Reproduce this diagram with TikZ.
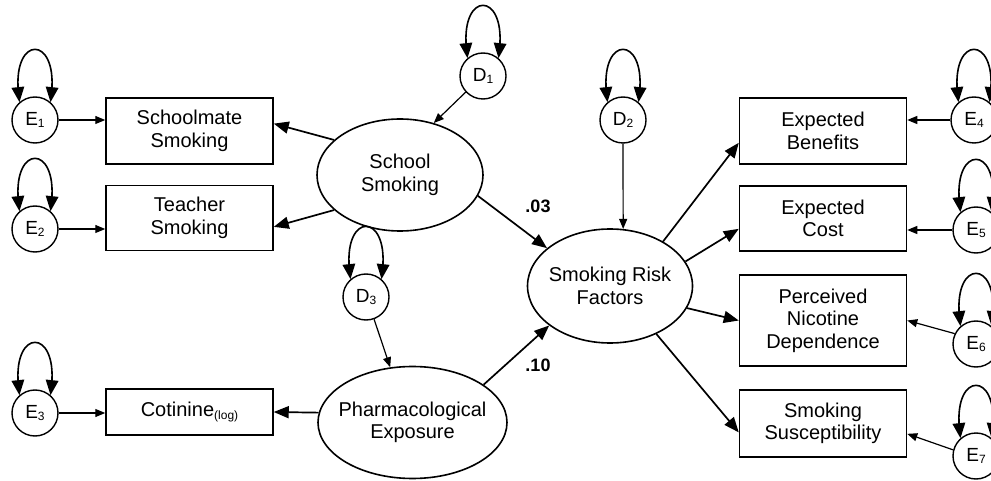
\documentclass[tikz,border=0pt]{standalone}
\usepackage{fontspec}
\setmainfont{Liberation Sans}
\usetikzlibrary{arrows.meta,shapes.geometric,calc}
\newcommand\lowsub[1]{\raisebox{-2.5pt}{\fontsize{12}{12}\selectfont #1}}
\newcommand\varloop[1]{%
  \draw[loopline] ($(#1.131)+(96:11)$) .. controls +(95:56) and +(85:56) .. ($(#1.49)+(84:11)$);
  \fill[looptip] (#1.131) -- ($(#1.131)+(96:15)+(6:6.5)$) -- ($(#1.131)+(96:15)+(186:6.5)$) -- cycle;
  \fill[looptip] (#1.49) -- ($(#1.49)+(84:15)+(174:6.5)$) -- ($(#1.49)+(84:15)+(-6:6.5)$) -- cycle;}
\begin{document}
\begin{tikzpicture}[x=1pt,y=1pt,
  box/.style={draw, line width=1.5pt, minimum width=167pt, align=center,
    font=\fontsize{20}{22.5}\selectfont, inner sep=0pt},
  lat/.style={draw, ellipse, line width=1.6pt, inner sep=0pt},
  txt/.style={align=center, font=\fontsize{20}{22.5}\selectfont, inner sep=0pt},
  errc/.style={draw, circle, line width=1.4pt, minimum size=46pt, inner sep=0pt,
    font=\fontsize{19}{19}\selectfont},
  load/.style={line width=1.7pt, arrows={-Triangle[length=15pt,width=12pt]}},
  errarr/.style={line width=1.2pt, arrows={-Triangle[length=10pt,width=8pt]}},
  loopline/.style={line width=1.6pt},
  looptip/.style={black},
  coef/.style={font=\bfseries\fontsize{18}{18}\selectfont, inner sep=0pt}
]
\useasboundingbox (0,0) rectangle (991,-481);
\clip (0,0) rectangle (991,-481);

% error / disturbance circles
\node[errc] (E1) at (35,-120) {E\lowsub{1}};
\node[errc] (E2) at (35,-229) {E\lowsub{2}};
\node[errc] (E3) at (35,-413) {E\lowsub{3}};
\node[errc] (D1) at (483,-76) {D\lowsub{1}};
\node[errc] (D2) at (623,-120) {D\lowsub{2}};
\node[errc] (D3) at (366,-297) {D\lowsub{3}};
\node[errc] (E4) at (974,-120) {E\lowsub{4}};
\node[errc] (E5) at (976,-230) {E\lowsub{5}};
\node[errc] (E6) at (976,-344) {E\lowsub{6}};
\node[errc] (E7) at (976,-456) {E\lowsub{7}};

% observed boxes
\node[box, minimum height=66pt] (schoolmate) at (189.5,-131) {Schoolmate\\Smoking};
\node[box, minimum height=65pt] (teacher) at (189.5,-218) {Teacher\\Smoking};
\node[box, minimum height=46pt] (cotinine) at (189.5,-412) {Cotinine\lowsub{(log)}};
\node[box, minimum height=66pt] (benefits) at (823,-131) {Expected\\Benefits};
\node[box, minimum height=65pt] (cost) at (823,-218.5) {Expected\\Cost};
\node[box, minimum height=91pt] (perceived) at (823,-320.5) {Perceived\\Nicotine\\Dependence};
\node[box, minimum height=67pt] (suscept) at (823,-423.5) {Smoking\\Susceptibility};

% latent ellipses
\node[lat, minimum width=166pt, minimum height=112pt] (school) at (400,-175) {};
\node[txt] (schooltxt) at (school) {School\\Smoking};
\node[lat, minimum width=189pt, minimum height=112pt] (pharm) at (412.5,-422.5) {};
\node[txt] (pharmtxt) at (pharm) {Pharmacological\\Exposure};
\node[lat, minimum width=165pt, minimum height=114pt] (risk) at (610,-286) {};
\node[txt] (risktxt) at (risk) {Smoking Risk\\Factors};

% coefficients
\node[coef] (c03) at (538,-206) {.03};
\node[coef] (c10) at (538,-365) {.10};

% structural / loading arrows
\draw[load] (school.152) -- (schoolmate.5.5);
\draw[load] (school.208) -- (teacher.-6.8);
\draw[load] (school.-15.8) -- (risk.149);
\draw[load] (pharm.174) -- (cotinine.east);
\draw[load] (pharm.28) -- (risk.213);
\draw[load] (risk.40) -- (benefits.188.2);
\draw[load] (risk.18.7) -- (cost.187.9);
\draw[load] (risk.-16) -- (perceived.west);
\draw[load] (risk.-46) -- (suscept.186.5);

% error arrows
\draw[errarr] (E1.east) -- (E1.east -| schoolmate.west);
\draw[errarr] (E2.east) -- (E2.east -| teacher.west);
\draw[errarr] (E3.east) -- (E3.east -| cotinine.west);
\draw[errarr] (E4.west) -- (E4.west -| benefits.east);
\draw[errarr] (E5.west) -- (E5.west -| cost.east);
\draw[errarr] (E6.154) -- (perceived.east);
\draw[errarr] (E7.165) -- (suscept.-7.9);
\draw[errarr] (D1.223.5) -- (school.57);
\draw[errarr] (D2.south) -- (risk.77);
\draw[errarr] (D3.-70.7) -- (pharm.112);

% variance loops
\varloop{E1}
\varloop{E2}
\varloop{E3}
\varloop{D1}
\varloop{D2}
\varloop{D3}
\varloop{E4}
\varloop{E5}
\varloop{E6}
\varloop{E7}
\end{tikzpicture}
\end{document}
